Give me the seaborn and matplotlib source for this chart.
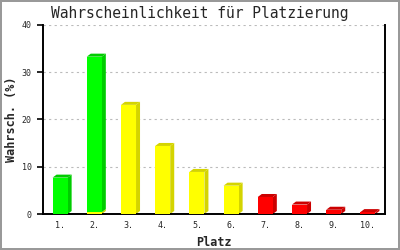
import matplotlib
matplotlib.use("Agg")
import matplotlib.pyplot as plt
import matplotlib.patches as mpatches
import seaborn as sns
import pandas as pd
import numpy as np

places = ["1.", "2.", "3.", "4.", "5.", "6.", "7.", "8.", "9.", "10."]
green = [7.7, 32.9, 0, 0, 0, 0, 0, 0, 0, 0]
yellow = [0, 0.4, 23.1, 14.4, 8.9, 6.0, 0, 0, 0, 0]
red = [0, 0, 0, 0, 0, 0, 3.6, 2.0, 0.9, 0.4]
yticks = [0, 10, 20, 30, 40]

title = "Wahrscheinlichkeit für Platzierung"
xlabel = "Platz"
ylabel = "Wahrsch. (%)"

sns.set_theme(style="white")
plt.rcParams["font.family"] = ["DejaVu Sans Mono", "DejaVu Sans"]

fig = plt.figure(figsize=(4, 2.5), dpi=100)
ax = fig.add_axes([43 / 400, 36 / 250, 342 / 400, 189 / 250])

# grey frame around the whole image (2 px)
fig.patches.append(mpatches.Rectangle((1 / 400, 1 / 250), 398 / 400, 248 / 250,
                                      transform=fig.transFigure, fill=False,
                                      edgecolor="#999999", linewidth=1.44,
                                      zorder=10))

df = pd.DataFrame({"Platz": places, "green": green, "yellow": yellow, "red": red})
df["gy"] = df["yellow"] + df["green"]

front = {"yellow": "#ffff00", "green": "#00ff00", "red": "#ff0000"}
side = {"yellow": "#d4d400", "green": "#00cc00", "red": "#cc0000"}

sns.barplot(data=df, x="Platz", y="gy", color=front["green"], width=0.44,
            saturation=1, ax=ax, zorder=3, linewidth=0)
sns.barplot(data=df, x="Platz", y="yellow", color=front["yellow"], width=0.44,
            saturation=1, ax=ax, zorder=3, linewidth=0)
sns.barplot(data=df, x="Platz", y="red", color=front["red"], width=0.44,
            saturation=1, ax=ax, zorder=3, linewidth=0)

ax.set_xlim(-0.5, 9.5)
ax.set_ylim(0, 40)
ax.set_yticks(yticks)

# 3D side and top faces
fig.canvas.draw()
inv = ax.transData.inverted()
p0 = inv.transform((0, 0))
p1 = inv.transform((4, 3))
dx, dy = p1[0] - p0[0], p1[1] - p0[1]

segments = []
for i in range(len(places)):
    base = 0.0
    for key, vals in (("yellow", yellow), ("green", green), ("red", red)):
        v = vals[i]
        if v <= 0:
            continue
        segments.append((i, base, base + v, key))
        base += v

tops = {}
for i, b0, b1, key in segments:
    tops[i] = max(tops.get(i, 0), b1)

for i, b0, b1, key in segments:
    x0, x1 = i - 0.22, i + 0.22
    sidepoly = [(x1, b0), (x1 + dx, b0 + dy), (x1 + dx, b1 + dy), (x1, b1)]
    ax.add_patch(mpatches.Polygon(sidepoly, closed=True, color=side[key],
                                  lw=0, zorder=2))
    if abs(b1 - tops[i]) < 1e-9:
        toppoly = [(x0, b1), (x0 + dx, b1 + dy), (x1 + dx, b1 + dy), (x1, b1)]
        ax.add_patch(mpatches.Polygon(toppoly, closed=True, color=side[key],
                                      lw=0, zorder=2))

ax.grid(axis="y", color="#bbbbbb", linestyle=(0, (2, 3)), linewidth=0.8, zorder=0)
ax.grid(axis="x", visible=False)

for s in ["left", "bottom", "right"]:
    ax.spines[s].set_visible(True)
    ax.spines[s].set_color("black")
    ax.spines[s].set_linewidth(1.4)
ax.spines["top"].set_visible(False)

ax.tick_params(axis="y", length=4, width=1.4, direction="out", left=True,
               labelsize=6, pad=4)
ax.tick_params(axis="x", length=0, labelsize=6, pad=5)

ax.set_xlabel(xlabel, fontsize=8.5, fontweight="bold", labelpad=4)
ax.set_ylabel(ylabel, fontsize=8.5, fontweight="bold")
ax.yaxis.set_label_coords(-25 / 342, 0.5)
fig.text(0.5, 0.945, title, fontsize=10.5, ha="center", va="center")

fig.savefig("out.png", dpi=100)
